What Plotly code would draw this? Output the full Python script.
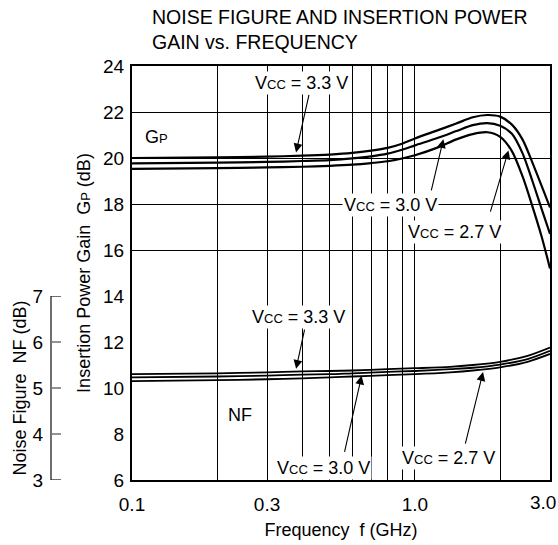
import numpy as np
import plotly.graph_objects as go

# ---- data ----
freq_gp = [0.1, 0.2, 0.3, 0.4, 0.5, 0.6, 0.7, 0.8, 0.9, 1.0, 1.2, 1.4, 1.6, 1.8, 2.0, 2.2, 2.4, 2.6, 2.8, 3.0]
gp_33 = [20.0, 20.03, 20.06, 20.1, 20.15, 20.22, 20.32, 20.44, 20.62, 20.85, 21.2, 21.5, 21.77, 21.87, 21.8, 21.45, 20.8, 19.8, 18.8, 17.85]
gp_30 = [19.77, 19.80, 19.83, 19.87, 19.91, 19.98, 20.07, 20.19, 20.36, 20.55, 20.87, 21.17, 21.43, 21.52, 21.4, 21.05, 20.2, 19.0, 17.8, 16.7]
gp_27 = [19.53, 19.56, 19.59, 19.62, 19.66, 19.71, 19.78, 19.86, 19.98, 20.12, 20.45, 20.81, 21.04, 21.12, 20.92, 20.3, 19.2, 17.9, 16.6, 15.2]

freq_nf = [0.1, 0.2, 0.3, 0.4, 0.5, 0.6, 0.8, 1.0, 1.33, 1.6, 2.0, 2.5, 3.0]
nf_33 = [5.30, 5.32, 5.34, 5.36, 5.37, 5.38, 5.41, 5.43, 5.46, 5.50, 5.57, 5.70, 5.88]
nf_30 = [5.23, 5.25, 5.27, 5.29, 5.30, 5.32, 5.35, 5.37, 5.41, 5.44, 5.51, 5.63, 5.81]
nf_27 = [5.15, 5.17, 5.19, 5.21, 5.23, 5.25, 5.28, 5.30, 5.34, 5.38, 5.45, 5.57, 5.74]

x_ticks = [0.1, 0.3, 1.0, 3.0]
x_ticktext = ["0.1", "0.3", "1.0", ""]
x_last_label = "3.0"
x_minor = [0.2, 0.4, 0.5, 0.6, 0.7, 0.8, 0.9, 2.0]
gp_ticks = [6, 8, 10, 12, 14, 16, 18, 20, 22, 24]
nf_ticks = [3, 4, 5, 6, 7]

FONT = "Liberation Sans, Arial, sans-serif"
W, H = 558, 545
ML, MR, MT, MB = 40, 8, 66, 65
PW = W - ML - MR
PH = H - MT - MB
plot_left_px = 132
xdom0 = (plot_left_px - ML) / PW
nf_axis_px = 51
nf_pos = (nf_axis_px - ML) / PW
nf_ticklen = 10 / PW

fig = go.Figure()
for ys in (gp_33, gp_30, gp_27):
    fig.add_trace(go.Scatter(x=freq_gp, y=ys, mode="lines", xaxis="x", yaxis="y",
                             line=dict(color="black", width=2.2, shape="spline", smoothing=0.8),
                             showlegend=False, hoverinfo="skip"))
for ys in (nf_33, nf_30, nf_27):
    fig.add_trace(go.Scatter(x=freq_nf, y=ys, mode="lines", xaxis="x", yaxis="y2",
                             line=dict(color="black", width=1.8, shape="spline", smoothing=0.8),
                             showlegend=False, hoverinfo="skip"))

VCC = "V<span style='font-size:13px'>CC</span>"

def nf_to_gp(v):
    return 6 + 2 * (v - 3)

def on_curve(fx, fs, ys):
    return float(np.interp(np.log10(fx), np.log10(fs), ys))

annotations = []
# title
annotations.append(dict(text="NOISE FIGURE AND INSERTION POWER<br>GAIN vs. FREQUENCY",
                        xref="paper", yref="paper", x=(150 - ML) / PW, y=1 + (MT - 4) / PH,
                        xanchor="left", yanchor="top", align="left", showarrow=False,
                        font=dict(family=FONT, size=19.5, color="black")))
# last x tick label (kept inside the page)
annotations.append(dict(text=x_last_label, xref="paper", yref="paper", x=(W - ML) / PW,
                        y=-(502 - (MT + PH)) / PH, xanchor="right", yanchor="middle",
                        showarrow=False, font=dict(family=FONT, size=19, color="black")))
# text labels
labels = [
    (VCC + " = 3.3 V", -0.401, 23.24),
    (VCC + " = 3.0 V", -0.088, 17.96),
    (VCC + " = 2.7 V", 0.138, 16.80),
    (VCC + " = 3.3 V", -0.412, 13.10),
    (VCC + " = 3.0 V", -0.322, 6.51),
    (VCC + " = 2.7 V", 0.119, 6.94),
]
for txt, lx, ly in labels:
    annotations.append(dict(text=txt, x=lx, y=ly, xref="x", yref="y", showarrow=False,
                            xanchor="center", yanchor="middle", bgcolor="white", borderpad=1,
                            font=dict(family=FONT, size=18, color="black")))
annotations.append(dict(text="G<span style='font-size:13px'>P</span>", x=-0.961, y=20.93,
                        xref="x", yref="y", showarrow=False, xanchor="left", yanchor="middle",
                        font=dict(family=FONT, size=18, color="black")))
annotations.append(dict(text="NF", x=-0.618, y=8.83, xref="x", yref="y", showarrow=False,
                        xanchor="center", yanchor="middle",
                        font=dict(family=FONT, size=18, color="black")))

# arrows: (tip freq, tip y, tail logf, tail y)
arrows = [
    (0.38, on_curve(0.38, freq_gp, gp_33) + 0.15, -0.3735, 22.81),
    (1.26, on_curve(1.26, freq_gp, gp_30) - 0.15, 0.0565, 18.53),
    (2.14, on_curve(2.14, freq_gp, gp_27) - 0.15, 0.265, 17.6),
    (0.38, nf_to_gp(on_curve(0.38, freq_nf, nf_33)) + 0.12, -0.389, 12.6),
    (0.648, nf_to_gp(on_curve(0.648, freq_nf, nf_30)) - 0.12, -0.25, 7.16),
    (1.74, nf_to_gp(on_curve(1.74, freq_nf, nf_27)) - 0.12, 0.1767, 7.52),
]
for tf, ty, tx0, ty0 in arrows:
    annotations.append(dict(text="", x=np.log10(tf), y=ty, xref="x", yref="y",
                            ax=tx0, ay=ty0, axref="x", ayref="y", showarrow=True,
                            arrowhead=2, arrowsize=1.6, arrowwidth=1.1, arrowcolor="black",
                            standoff=0, startstandoff=0))

# NF axis bracket (line + ticks) in NF axis coordinates
shapes = [dict(type="line", xref="paper", yref="y2", x0=nf_pos, x1=nf_pos,
               y0=nf_ticks[0], y1=nf_ticks[-1], line=dict(color="#222222", width=1.3))]
for i, t in enumerate(nf_ticks):
    edge = i in (0, len(nf_ticks) - 1)
    shapes.append(dict(type="line", xref="paper", yref="y2", x0=nf_pos, x1=nf_pos + nf_ticklen,
                       y0=t, y1=t, line=dict(color="#222222" if edge else "#777777",
                                             width=1.3 if edge else 1.6)))

fig.update_layout(
    width=W, height=H,
    margin=dict(l=ML, r=MR, t=MT, b=MB, pad=0, autoexpand=False),
    paper_bgcolor="white", plot_bgcolor="white",
    font=dict(family=FONT, size=18, color="black"),
    xaxis=dict(type="log", range=[-1, np.log10(3.0)], domain=[xdom0, 1], automargin=False,
               tickvals=x_ticks, ticktext=x_ticktext, ticks="", ticklabelstandoff=6,
               showgrid=True, gridcolor="black", gridwidth=1,
               minor=dict(tickvals=x_minor, showgrid=True, gridcolor="black", gridwidth=1, ticks=""),
               showline=True, linecolor="black", linewidth=2, mirror=True,
               title=dict(text="Frequency  f (GHz)", standoff=10,
                          font=dict(family=FONT, size=18, color="black")),
               tickfont=dict(family=FONT, size=19, color="black"), zeroline=False),
    yaxis=dict(range=[6, 24], domain=[0, 1], tickvals=gp_ticks, ticks="", automargin=False,
               showgrid=True, gridcolor="black", gridwidth=1, ticklabelstandoff=2,
               showline=True, linecolor="black", linewidth=2, mirror=True,
               title=dict(text="Insertion Power Gain  G<span style='font-size:13px'>P</span> (dB)",
                          standoff=8, font=dict(family=FONT, size=18, color="black")),
               tickfont=dict(family=FONT, size=19, color="black"), zeroline=False),
    yaxis2=dict(range=[3, 7], domain=[0, 8 / 18], anchor="free", position=nf_pos, side="left",
                automargin=False, tickvals=nf_ticks, ticks="", ticklabelstandoff=8,
                showgrid=False, showline=False, zeroline=False,
                title=dict(text="Noise Figure  NF (dB)", standoff=0,
                           font=dict(family=FONT, size=18, color="black")),
                tickfont=dict(family=FONT, size=19, color="black")),
    annotations=annotations,
    shapes=shapes,
)

fig.write_html("out.html", config={"displayModeBar": False},
               post_script="document.body.style.margin='0px';")
